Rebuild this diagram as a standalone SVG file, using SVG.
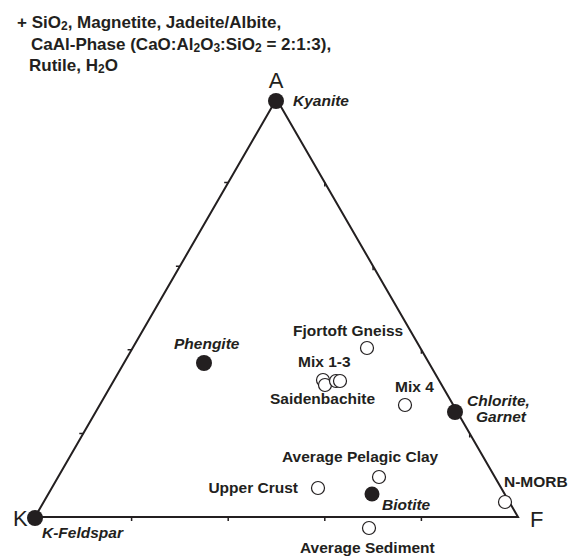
<svg xmlns="http://www.w3.org/2000/svg" width="579" height="558" viewBox="0 0 579 558">
<style>
.lbl{font-family:"Liberation Sans",Arial,sans-serif;font-weight:bold;font-size:15.5px;fill:#231f20}
.it{font-style:italic}
.hdr{font-family:"Liberation Sans",Arial,sans-serif;font-weight:bold;font-size:17px;fill:#231f20}
.vx{font-family:"Liberation Sans",Arial,sans-serif;font-size:22px;fill:#231f20}
.fill{fill:#231f20}
.open{fill:#fff;stroke:#231f20;stroke-width:1.2}
.edge{fill:none;stroke:#231f20;stroke-width:2;stroke-linejoin:miter}
.tick{stroke:#231f20;stroke-width:1.5}
</style>
<rect width="579" height="558" fill="#fff"/>
<g id="header">
<text class="hdr" x="17" y="28">+ SiO<tspan font-size="12" dy="2">2</tspan><tspan dy="-2">, Magnetite, Jadeite/Albite,</tspan></text>
<text class="hdr" x="31" y="50">CaAl-Phase (CaO:Al<tspan font-size="12" dy="2">2</tspan><tspan dy="-2">O</tspan><tspan font-size="12" dy="2">3</tspan><tspan dy="-2">:SiO</tspan><tspan font-size="12" dy="2">2</tspan><tspan dy="-2"> = 2:1:3),</tspan></text>
<text class="hdr" x="29" y="71">Rutile, H<tspan font-size="12" dy="2">2</tspan><tspan dy="-2">O</tspan></text>
</g>
<g id="connectors">
<polygon class="edge" points="276.5,99 518,517 35,517"/>
<path class="tick" d="M83.3,433.4h-4M131.6,349.8h-4M179.9,266.2h-4M228.2,182.6h-4M131.6,517v4M228.2,517v4M324.8,517v4M421.4,517v4M469.7,433.4v4M421.4,349.8v4M373.1,266.2v4M324.8,182.6v4"/>
</g>
<g id="vertex-A"><text class="vx" x="276" y="88" text-anchor="middle">A</text><circle class="fill" cx="276" cy="101" r="8"/><text class="lbl it" x="293" y="106">Kyanite</text></g>
<g id="vertex-K"><text class="vx" x="13" y="526">K</text><circle class="fill" cx="35" cy="518" r="8"/><text class="lbl it" x="42" y="538">K-Feldspar</text></g>
<g id="vertex-F"><text class="vx" x="530" y="527">F</text></g>
<g id="phengite"><circle class="fill" cx="204" cy="363" r="8"/><text class="lbl it" x="174" y="349">Phengite</text></g>
<g id="chlorite-garnet"><circle class="fill" cx="455" cy="412" r="8"/><text class="lbl it" x="467" y="406">Chlorite,</text><text class="lbl it" x="476" y="422">Garnet</text></g>
<g id="biotite"><circle class="fill" cx="372" cy="494" r="7.5"/><text class="lbl it" x="382" y="510">Biotite</text></g>
<g id="fjortoft-gneiss"><circle class="open" cx="367" cy="348" r="6.5"/><text class="lbl" x="293" y="336">Fjortoft Gneiss</text></g>
<g id="mix-1-3"><circle class="open" cx="323" cy="380" r="6.5"/><circle class="open" cx="325" cy="385" r="6.5"/><circle class="open" cx="336" cy="381" r="6.5"/><circle class="open" cx="340" cy="381" r="6.5"/><text class="lbl" x="298" y="367">Mix 1-3</text><text class="lbl" x="270" y="404">Saidenbachite</text></g>
<g id="mix-4"><circle class="open" cx="405" cy="405" r="6.5"/><text class="lbl" x="395" y="392">Mix 4</text></g>
<g id="pelagic-clay"><circle class="open" cx="379" cy="477" r="6.5"/><text class="lbl" x="282" y="462">Average Pelagic Clay</text></g>
<g id="upper-crust"><circle class="open" cx="318" cy="488" r="6.5"/><text class="lbl" x="298" y="493" text-anchor="end">Upper Crust</text></g>
<g id="n-morb"><circle class="open" cx="505" cy="502" r="6.5"/><text class="lbl" x="504" y="487">N-MORB</text></g>
<g id="average-sediment"><circle class="open" cx="369" cy="528" r="6.5"/><text class="lbl" x="300" y="553">Average Sediment</text></g>
</svg>
